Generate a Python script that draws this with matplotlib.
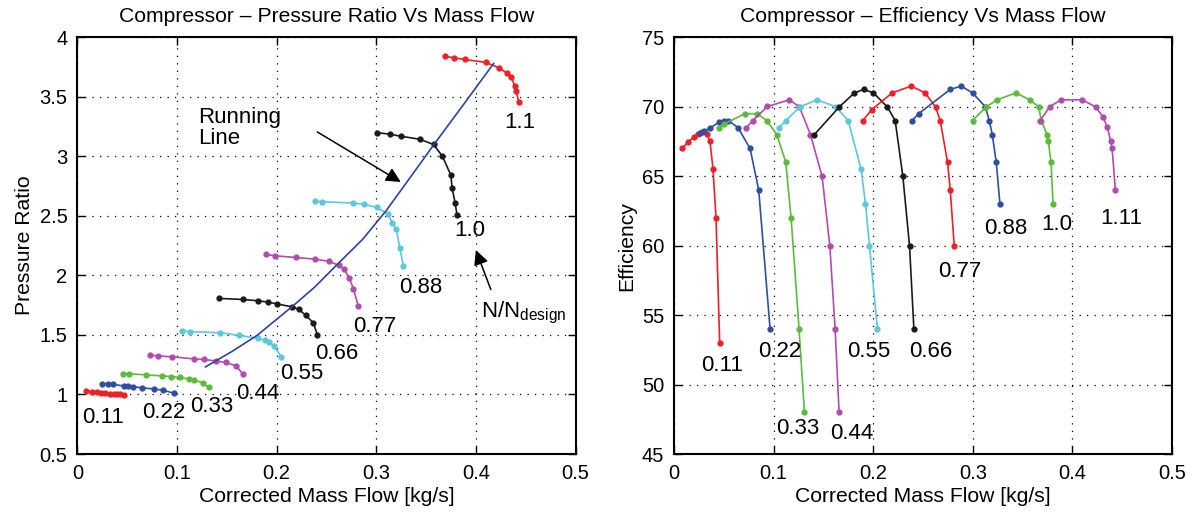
import matplotlib
matplotlib.use("Agg")
import matplotlib.pyplot as plt

plt.rcParams['font.family'] = ['Liberation Sans', 'DejaVu Sans']

RED, BLUE, GREEN, MAG, CYAN, BLACK = "#ee1f26", "#2f4ea3", "#5cbb3b", "#b24bb0", "#5cc8dc", "#1a1a1a"

# ---------------- data: pressure ratio map ----------------
speed_labels = ["0.11", "0.22", "0.33", "0.44", "0.55", "0.66", "0.77", "0.88", "1.0", "1.1"]
pr_colors = [RED, BLUE, GREEN, MAG, CYAN, BLACK, MAG, CYAN, BLACK, RED]

pr_m_011 = [0.0087, 0.0147, 0.0198, 0.0241, 0.0281, 0.0332, 0.0365, 0.0399, 0.0432, 0.0465]
pr_v_011 = [1.028, 1.022, 1.018, 1.014, 1.011, 1.006, 1.003, 1.003, 1.000, 0.997]
pr_m_022 = [0.0248, 0.0305, 0.0358, 0.0465, 0.0510, 0.0556, 0.0653, 0.0767, 0.0857, 0.0968]
pr_v_022 = [1.089, 1.087, 1.084, 1.072, 1.070, 1.067, 1.055, 1.047, 1.036, 1.011]
pr_m_033 = [0.0455, 0.0516, 0.0694, 0.0852, 0.0942, 0.1035, 0.1119, 0.1176, 0.1263, 0.1317]
pr_v_033 = [1.176, 1.173, 1.165, 1.156, 1.151, 1.143, 1.129, 1.120, 1.097, 1.059]
pr_m_044 = [0.0731, 0.0814, 0.0952, 0.1169, 0.1270, 0.1387, 0.1488, 0.1595, 0.1665]
pr_v_044 = [1.330, 1.324, 1.316, 1.299, 1.294, 1.282, 1.269, 1.240, 1.168]
pr_m_055 = [0.1052, 0.1129, 0.1437, 0.1625, 0.1816, 0.1879, 0.1923, 0.1973, 0.2047]
pr_v_055 = [1.532, 1.529, 1.518, 1.496, 1.471, 1.454, 1.442, 1.406, 1.319]
pr_m_066 = [0.1420, 0.1665, 0.1816, 0.1913, 0.2003, 0.2154, 0.2221, 0.2291, 0.2369, 0.2409]
pr_v_066 = [1.807, 1.798, 1.787, 1.776, 1.761, 1.736, 1.717, 1.666, 1.602, 1.501]
pr_m_077 = [0.1896, 0.1983, 0.2190, 0.2385, 0.2526, 0.2626, 0.2677, 0.2727, 0.2771, 0.2818]
pr_v_077 = [2.176, 2.165, 2.151, 2.137, 2.118, 2.084, 2.053, 1.980, 1.890, 1.745]
pr_m_088 = [0.2385, 0.2452, 0.2771, 0.2881, 0.3005, 0.3119, 0.3163, 0.3203, 0.3236, 0.3273]
pr_v_088 = [2.624, 2.619, 2.608, 2.597, 2.571, 2.515, 2.437, 2.387, 2.232, 2.078]
pr_m_100 = [0.3005, 0.3139, 0.3246, 0.3437, 0.3575, 0.3665, 0.3749, 0.3762, 0.3792, 0.3810]
pr_v_100 = [3.200, 3.186, 3.169, 3.144, 3.100, 3.000, 2.842, 2.731, 2.608, 2.511]
pr_m_110 = [0.3690, 0.3776, 0.3890, 0.4100, 0.4230, 0.4310, 0.4355, 0.4390, 0.4405, 0.4430]
pr_v_110 = [3.842, 3.828, 3.814, 3.789, 3.745, 3.700, 3.670, 3.590, 3.545, 3.456]

run_m = [0.1286, 0.1550, 0.1806, 0.2153, 0.2380, 0.2606, 0.2860, 0.3096, 0.3330, 0.3575, 0.3880, 0.4178]
run_v = [1.232, 1.360, 1.498, 1.736, 1.900, 2.090, 2.300, 2.540, 2.810, 3.095, 3.440, 3.780]

# ---------------- data: efficiency map ----------------
eff_labels = ["0.11", "0.22", "0.33", "0.44", "0.55", "0.66", "0.77", "0.88", "1.0", "1.11"]
ef_colors = [RED, BLUE, GREEN, MAG, CYAN, BLACK, RED, BLUE, GREEN, MAG]

ef_m_011 = [0.0080, 0.0144, 0.0201, 0.0241, 0.0281, 0.0328, 0.0362, 0.0392, 0.0422, 0.0459]
ef_v_011 = [67.0, 67.47, 67.84, 68.05, 68.17, 68.05, 67.5, 65.5, 62.0, 53.0]
ef_m_022 = [0.0262, 0.0305, 0.0360, 0.0456, 0.0506, 0.0546, 0.0643, 0.0764, 0.0851, 0.0965]
ef_v_022 = [68.1, 68.25, 68.46, 68.9, 69.0, 69.0, 68.5, 67.0, 64.0, 54.0]
ef_m_033 = [0.0456, 0.0506, 0.0711, 0.0837, 0.0932, 0.1032, 0.1122, 0.1176, 0.1256, 0.1310]
ef_v_033 = [68.49, 68.77, 69.5, 69.5, 69.01, 68.0, 66.03, 62.0, 54.0, 48.0]
ef_m_044 = [0.0727, 0.0791, 0.0938, 0.1159, 0.1259, 0.1370, 0.1487, 0.1565, 0.1618, 0.1658]
ef_v_044 = [68.49, 69.01, 70.02, 70.5, 70.0, 68.0, 65.0, 60.0, 54.0, 48.0]
ef_m_055 = [0.1055, 0.1123, 0.1266, 0.1437, 0.1625, 0.1749, 0.1879, 0.1923, 0.1963, 0.2043]
ef_v_055 = [68.49, 69.01, 70.0, 70.5, 70.0, 69.01, 65.5, 63.0, 60.0, 54.0]
ef_m_066 = [0.1410, 0.1661, 0.1812, 0.1906, 0.2003, 0.2141, 0.2221, 0.2298, 0.2365, 0.2409]
ef_v_066 = [68.0, 70.0, 71.0, 71.25, 71.0, 70.0, 69.01, 65.0, 60.0, 54.0]
ef_m_077 = [0.1896, 0.1987, 0.2191, 0.2382, 0.2520, 0.2626, 0.2673, 0.2747, 0.2774, 0.2814]
ef_v_077 = [69.01, 69.8, 71.0, 71.49, 71.0, 70.0, 69.01, 66.0, 64.0, 60.0]
ef_m_088 = [0.2392, 0.2456, 0.2774, 0.2884, 0.2998, 0.3126, 0.3166, 0.3196, 0.3236, 0.3273]
ef_v_088 = [69.01, 69.5, 71.25, 71.49, 71.0, 70.0, 69.01, 68.0, 66.0, 63.0]
ef_m_100 = [0.2998, 0.3136, 0.3246, 0.3434, 0.3571, 0.3662, 0.3688, 0.3746, 0.3759, 0.3786, 0.3806]
ef_v_100 = [69.01, 70.0, 70.5, 71.0, 70.5, 70.0, 69.01, 68.0, 67.5, 66.0, 63.0]
ef_m_111 = [0.3678, 0.3772, 0.3886, 0.4097, 0.4234, 0.4308, 0.4352, 0.4385, 0.4399, 0.4432]
ef_v_111 = [69.01, 70.0, 70.5, 70.5, 70.0, 69.25, 68.51, 67.5, 67.02, 64.0]

pr_series = [(pr_m_011, pr_v_011), (pr_m_022, pr_v_022), (pr_m_033, pr_v_033),
             (pr_m_044, pr_v_044), (pr_m_055, pr_v_055), (pr_m_066, pr_v_066),
             (pr_m_077, pr_v_077), (pr_m_088, pr_v_088), (pr_m_100, pr_v_100),
             (pr_m_110, pr_v_110)]
ef_series = [(ef_m_011, ef_v_011), (ef_m_022, ef_v_022), (ef_m_033, ef_v_033),
             (ef_m_044, ef_v_044), (ef_m_055, ef_v_055), (ef_m_066, ef_v_066),
             (ef_m_077, ef_v_077), (ef_m_088, ef_v_088), (ef_m_100, ef_v_100),
             (ef_m_111, ef_v_111)]

# label anchor positions (centres, data coords)
pr_lab_m = [0.0259, 0.0867, 0.1345, 0.1808, 0.2250, 0.2603, 0.2985, 0.3448, 0.3936, 0.4444]
pr_lab_v = [0.809, 0.847, 0.897, 1.007, 1.175, 1.343, 1.570, 1.897, 2.376, 3.284]
ef_lab_m = [0.0482, 0.1065, 0.1241, 0.1790, 0.1955, 0.2578, 0.2869, 0.3332, 0.3839, 0.4492]
ef_lab_v = [51.4, 52.4, 46.84, 46.48, 52.4, 52.4, 58.16, 61.26, 61.51, 61.98]

fig = plt.figure(figsize=(11.95, 5.14), dpi=100)
ax1 = fig.add_axes([0.0647, 0.1167, 0.4169, 0.8107])
ax2 = fig.add_axes([0.5640, 0.1167, 0.4167, 0.8107])

FS = 15.2
TFS = 14.5
LFS = 16

def style(ax):
    ax.set_xlim(0, 0.5)
    ax.grid(True, linestyle=(0, (1, 5)), color='black', linewidth=0.9)
    ax.tick_params(direction='in', top=True, right=True, length=6, width=1,
                   labelsize=TFS, pad=7)
    for s in ax.spines.values():
        s.set_linewidth(1.5)
    ax.set_xticks([0, 0.1, 0.2, 0.3, 0.4, 0.5])
    ax.set_xticklabels(["0", "0.1", "0.2", "0.3", "0.4", "0.5"])
    ax.set_xlabel("Corrected Mass Flow [kg/s]", fontsize=FS, labelpad=3)

# ---- left ----
for (m, v), c in zip(pr_series, pr_colors):
    ax1.plot(m, v, '-o', color=c, lw=1.2, ms=3.5)
ax1.plot(run_m, run_v, '-', color='#2b44a0', lw=1.2)
for t, x, y in zip(speed_labels, pr_lab_m, pr_lab_v):
    ax1.text(x, y, t, ha='center', va='center', fontsize=LFS)
style(ax1)
ax1.set_ylim(0.5, 4)
ax1.set_yticks([0.5, 1, 1.5, 2, 2.5, 3, 3.5, 4])
ax1.set_yticklabels(["0.5", "1", "1.5", "2", "2.5", "3", "3.5", "4"])
ax1.set_ylabel("Pressure Ratio", fontsize=FS, labelpad=4)
ax1.set_title("Compressor \u2013 Pressure Ratio Vs Mass Flow", fontsize=FS, pad=11)
ax1.text(0.1217, 3.238, "Running\nLine", ha='left', va='center', fontsize=LFS,
         linespacing=1.05)
ax1.annotate("", xy=(0.3246, 2.785), xytext=(0.2409, 3.205),
             arrowprops=dict(arrowstyle='-|>', color='black', lw=1.1,
                             mutation_scale=22, shrinkA=0, shrinkB=0))
ax1.annotate("", xy=(0.400, 2.213), xytext=(0.415, 1.882),
             arrowprops=dict(arrowstyle='-|>', color='black', lw=1.1,
                             mutation_scale=22, shrinkA=0, shrinkB=0))
ax1.text(0.405, 1.65, r"N/N$_{\mathregular{design}}$", ha='left', va='baseline',
         fontsize=LFS)

# ---- right ----
for (m, v), c in zip(ef_series, ef_colors):
    ax2.plot(m, v, '-o', color=c, lw=1.2, ms=3.5)
for t, x, y in zip(eff_labels, ef_lab_m, ef_lab_v):
    ax2.text(x, y, t, ha='center', va='center', fontsize=LFS)
style(ax2)
ax2.set_ylim(45, 75)
ax2.set_yticks([45, 50, 55, 60, 65, 70, 75])
ax2.set_ylabel("Efficiency", fontsize=FS, labelpad=4)
ax2.set_title("Compressor \u2013 Efficiency Vs Mass Flow", fontsize=FS, pad=11)

fig.savefig("out.png", dpi=100)
